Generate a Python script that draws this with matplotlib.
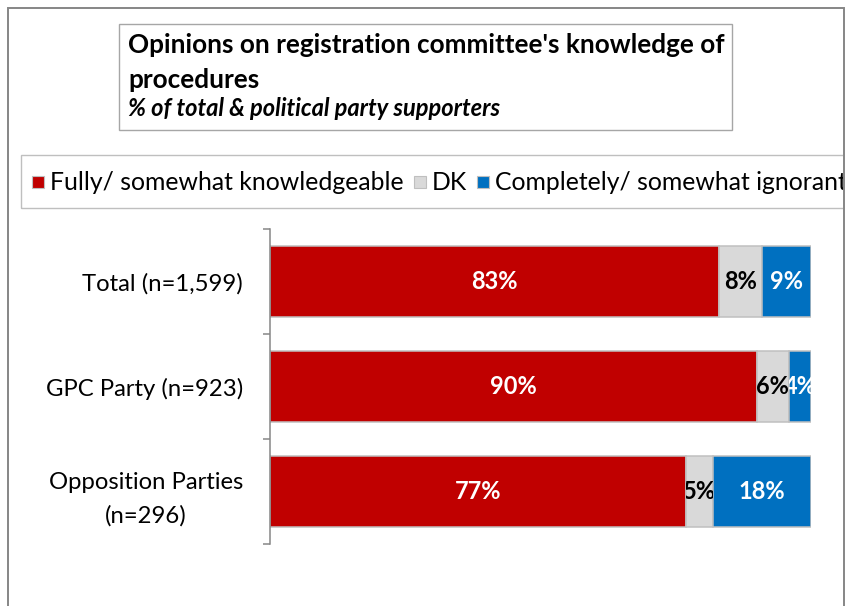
import numpy as np
import matplotlib
matplotlib.use('Agg')
import matplotlib.pyplot as plt
from matplotlib.patches import Rectangle
from matplotlib.transforms import Bbox

# survey results, % of respondents
groups = ['Total (n=1,599)', 'GPC Party (n=923)', 'Opposition Parties\n(n=296)']
knowledgeable = [83, 90, 77]
dont_know = [8, 6, 5]
ignorant = [9, 4, 18]
series_names = ['Fully/ somewhat knowledgeable', 'DK', 'Completely/ somewhat ignorant']

title_lines = ["Opinions on registration committee's knowledge of", 'procedures']
subtitle = '% of total & political party supporters'

colors = ['#C00000', '#D9D9D9', '#0070C0']
label_colors = ['white', 'black', 'white']
font = 'Lato'

W, H = 852, 606
fig = plt.figure(figsize=(W / 100, H / 100), dpi=100)
fig.patch.set_facecolor('white')

def px(x, y):
    # pixel position (from top-left) -> figure fraction
    return x / W, 1 - y / H

def box(x0, y0, x1, y1, color, lw):
    r = Rectangle(px(x0, y1), (x1 - x0) / W, (y1 - y0) / H, transform=fig.transFigure,
                  facecolor='none', edgecolor=color, lw=lw)
    fig.add_artist(r)
    return r

# outer chart border (bottom runs off the page)
box(7.5, 8, 844, 640, '#868686', 1.4)
frame_clip = Bbox([[8, 0], [843, H - 8]])

# title box
box(119, 24, 732, 130, '#A6A6A6', 1.0)
fig.text(*px(128, 53), title_lines[0], fontsize=18.8, fontweight='bold', family=font, va='baseline')
fig.text(*px(128, 88), title_lines[1], fontsize=18.8, fontweight='bold', family=font, va='baseline')
fig.text(*px(128, 116), subtitle, fontsize=17, fontweight='bold', style='italic', family=font, va='baseline')

# legend box, clipped by the outer border
leg = box(21, 155, 900, 208, '#BFBFBF', 1.0)
leg.set_clip_box(frame_clip)
renderer = fig.canvas.get_renderer()
x = 32
for name, c in zip(series_names, colors):
    sq = Rectangle(px(x, 188), 12 / W, 12 / H, transform=fig.transFigure,
                   facecolor=c, edgecolor='#BFBFBF', lw=0.8)
    fig.add_artist(sq)
    t = fig.text(*px(x + 18, 190), name, fontsize=17.8, family=font, va='baseline')
    t.set_clip_box(frame_clip)
    t.set_clip_on(True)
    bb = t.get_window_extent(renderer)
    x = bb.x1 + 10

# bar chart
ax = fig.add_axes([270 / W, 1 - 544 / H, (810.7 - 270) / W, (544 - 229) / H])
ypos = np.arange(len(groups))
left = np.zeros(len(groups))
for vals, c, lc in zip([knowledgeable, dont_know, ignorant], colors, label_colors):
    bars = ax.barh(ypos, vals, left=left, height=0.667, color=c, edgecolor='#C0C0C0', lw=1.1)
    for b, v in zip(bars, vals):
        t = ax.text(b.get_x() + b.get_width() / 2, b.get_y() + b.get_height() / 2, f'{v}%',
                    ha='center', va='center', color=lc, fontsize=17, fontweight='bold',
                    family=font, clip_on=True)
        t.set_clip_path(b)
    left += np.array(vals)

ax.set_xlim(0, 100)
ax.set_ylim(len(groups) - 0.5, -0.5)
ax.set_xticks([])
ax.set_yticks(np.arange(len(groups) + 1) - 0.5)
ax.set_yticklabels([])
ax.set_yticks(ypos, minor=True)
ax.set_yticklabels(groups, minor=True, fontsize=17.2, family=font, multialignment='center')
for lbl in ax.get_yticklabels(minor=True):
    lbl.set_linespacing(1.65)
ax.tick_params(axis='y', which='major', length=5, width=1.1, color='#868686')
ax.tick_params(axis='y', which='minor', length=0, pad=19.4)
for s in ['top', 'right', 'bottom']:
    ax.spines[s].set_visible(False)
ax.spines['left'].set_color('#868686')
ax.spines['left'].set_linewidth(1.1)

fig.savefig('out.png', dpi=100)
